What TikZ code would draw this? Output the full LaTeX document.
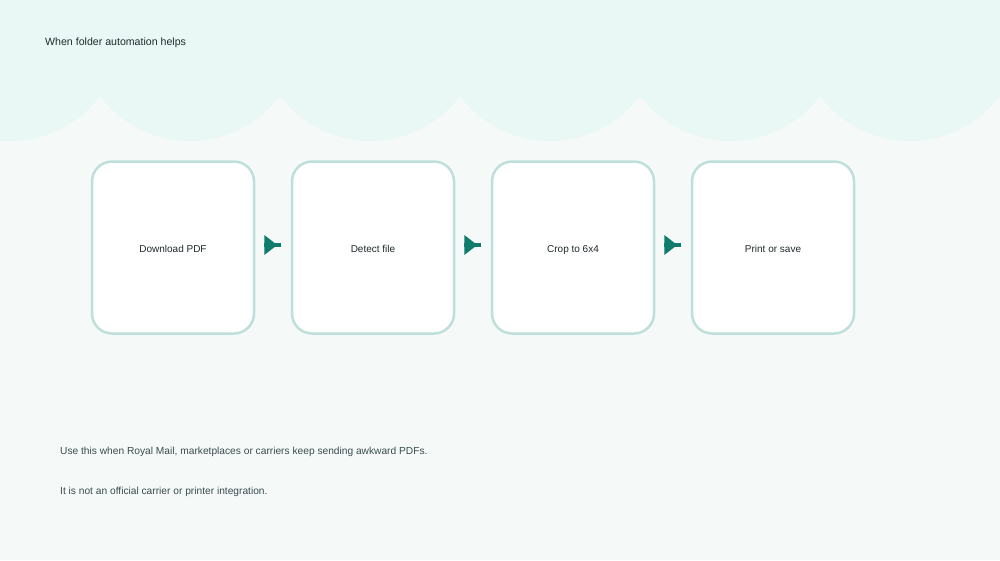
\documentclass[tikz,border=0pt]{standalone}
\usepackage{fontspec}
\setmainfont{Liberation Sans}
\definecolor{bgc}{HTML}{F5FAF9}
\definecolor{topc}{HTML}{EAF8F5}
\definecolor{boxline}{HTML}{BFE0DA}
\definecolor{arrc}{HTML}{0F7B6C}
\definecolor{txt}{HTML}{1E2A2C}
\definecolor{txtb}{HTML}{3A4A4E}
\begin{document}
\begin{tikzpicture}[x=1pt,y=-1pt,
  stepbox/.style={draw=boxline,line width=2.5pt,fill=white,rounded corners=20pt,minimum width=162pt,minimum height=172pt,inner sep=0pt,text height=10pt,text depth=1pt,font=\fontsize{10pt}{12pt}\selectfont,text=txt},
  lbl/.style={anchor=base west,inner sep=0pt},
  arrowtip/.style={fill=arrc,draw=none}]
\useasboundingbox (0,0) rectangle (1000,560);
\fill[bgc] (0,0) rectangle (1000,560);
\begin{scope}
\clip (0,0) rectangle (1000,560);
\fill[topc] (0,0) rectangle (1000,29);
\foreach \cx in {10,190,370,550,730,910,1090}{
  \fill[topc] (\cx,28.5) circle[radius=112.5];
}
\end{scope}
\node[lbl,text=txt,font=\fontsize{10.6pt}{12pt}\selectfont] (title) at (45,45.5) {When folder automation helps};
\node[stepbox] (s1) at (173,247.5) {Download PDF};
\node[stepbox] (s2) at (373,247.5) {Detect file};
\node[stepbox] (s3) at (573,247.5) {Crop to 6x4};
\node[stepbox] (s4) at (773,247.5) {Print or save};
\foreach \a/\b in {s1/s2,s2/s3,s3/s4}{
  \path (\a.east) ++(9,-2.5) coordinate (t\a);
  \fill[arrowtip] (t\a) ++(0,-10) -- ++(13,10) -- ++(-13,10) -- cycle;
  \fill[arrowtip] (t\a) ++(0,-2) rectangle ++(17,4);
}
\node[lbl,text=txtb,font=\fontsize{10.2pt}{12pt}\selectfont] (n1) at (60,454.5) {Use this when Royal Mail, marketplaces or carriers keep sending awkward PDFs.};
\node[lbl,text=txtb,font=\fontsize{10.2pt}{12pt}\selectfont] (n2) at (60,494.5) {It is not an official carrier or printer integration.};
\end{tikzpicture}
\end{document}
